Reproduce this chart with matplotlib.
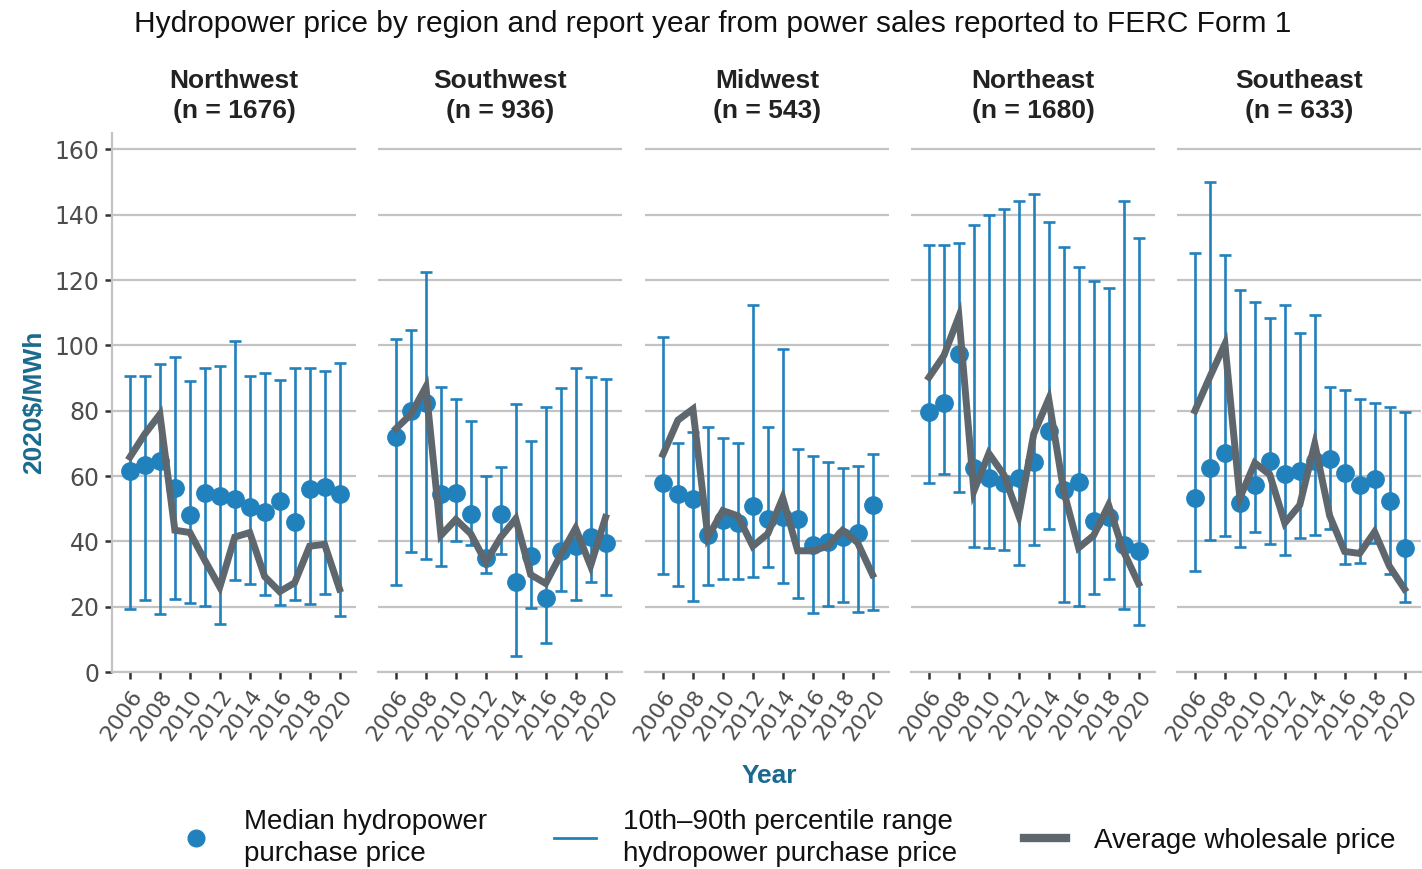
import matplotlib as mpl
mpl.use('Agg')
import matplotlib.pyplot as plt
from matplotlib.lines import Line2D

plt.rcParams['font.family'] = ['Liberation Sans', 'DejaVu Sans']

years = list(range(2006, 2021))
regions = ['Northwest', 'Southwest', 'Midwest', 'Northeast', 'Southeast']
counts = [1676, 936, 543, 1680, 633]

# median hydropower purchase price
nw_med = [61.4, 63.3, 64.7, 56.2, 48.1, 54.9, 53.8, 53.0, 50.5, 49.1, 52.4, 45.9, 56.0, 56.5, 54.6]
sw_med = [71.8, 79.8, 82.4, 54.6, 54.9, 48.3, 34.9, 48.3, 27.6, 35.6, 22.7, 37.1, 38.5, 41.3, 39.6]
mw_med = [57.8, 54.6, 52.9, 41.8, 46.4, 45.6, 50.9, 46.9, 47.3, 46.7, 38.9, 39.9, 41.3, 42.6, 51.1]
ne_med = [79.7, 82.5, 97.5, 62.5, 59.3, 57.8, 59.3, 64.2, 73.7, 55.7, 58.2, 46.2, 47.3, 38.9, 37.1]
se_med = [53.3, 62.3, 66.9, 51.6, 57.3, 64.7, 60.7, 61.4, 64.7, 65.3, 60.9, 57.3, 59.0, 52.2, 38.0]

# 10th percentile
nw_p10 = [19.2, 22.0, 17.8, 22.5, 21.0, 20.3, 14.7, 28.2, 26.8, 23.5, 20.5, 22.0, 20.7, 24.0, 17.2]
sw_p10 = [26.5, 36.6, 34.7, 32.5, 40.2, 38.9, 30.3, 36.2, 5.0, 19.6, 8.8, 24.9, 21.9, 27.6, 23.6]
mw_p10 = [30.0, 26.2, 21.8, 26.5, 28.5, 28.5, 29.2, 32.2, 27.1, 22.7, 18.1, 20.3, 21.4, 18.3, 18.9]
ne_p10 = [57.8, 60.7, 55.2, 38.2, 38.0, 37.4, 32.9, 38.9, 43.7, 21.4, 20.3, 23.8, 28.5, 19.2, 14.5]
se_p10 = [30.9, 40.4, 41.5, 38.2, 42.9, 39.1, 35.8, 41.0, 41.8, 43.7, 33.1, 33.4, 39.4, 30.1, 21.4]

# 90th percentile
nw_p90 = [90.6, 90.6, 94.4, 96.3, 89.2, 93.1, 93.8, 101.3, 90.6, 91.6, 89.4, 93.1, 93.1, 92.0, 94.7]
sw_p90 = [101.8, 104.8, 122.6, 87.1, 83.6, 76.7, 60.1, 62.9, 82.0, 70.7, 81.2, 86.9, 93.1, 90.4, 89.6]
mw_p90 = [102.4, 70.0, 73.5, 74.9, 71.6, 70.0, 112.5, 74.9, 98.9, 68.2, 66.1, 64.2, 62.5, 63.1, 66.6]
ne_p90 = [130.7, 130.7, 131.2, 136.8, 139.8, 141.7, 144.2, 146.2, 137.8, 130.0, 123.9, 119.8, 117.7, 144.1, 132.9]
se_p90 = [128.3, 150.1, 127.8, 116.9, 113.3, 108.4, 112.5, 103.8, 109.2, 87.1, 86.2, 83.6, 82.5, 81.1, 79.7]

# average wholesale price
nw_avg = [65.8, 72.9, 78.9, 43.4, 42.7, 34.2, 26.0, 41.3, 42.7, 29.2, 24.6, 27.3, 38.5, 39.1, 25.4]
sw_avg = [74.5, 78.9, 87.3, 41.8, 46.7, 42.3, 33.6, 41.3, 46.9, 29.8, 27.1, 35.8, 44.0, 32.5, 47.3]
mw_avg = [66.6, 77.1, 80.5, 41.3, 49.4, 47.8, 38.5, 42.3, 53.3, 37.1, 37.1, 38.5, 43.4, 39.6, 29.8]
ne_avg = [90.2, 96.9, 108.9, 55.4, 66.9, 60.4, 47.8, 72.9, 83.6, 55.4, 38.0, 41.8, 51.1, 36.9, 27.1]
se_avg = [80.0, 90.4, 100.4, 53.3, 64.0, 60.4, 45.6, 51.1, 69.8, 47.8, 36.9, 36.3, 42.9, 32.3, 25.4]

meds = [nw_med, sw_med, mw_med, ne_med, se_med]
p10s = [nw_p10, sw_p10, mw_p10, ne_p10, se_p10]
p90s = [nw_p90, sw_p90, mw_p90, ne_p90, se_p90]
avgs = [nw_avg, sw_avg, mw_avg, ne_avg, se_avg]

blue = '#2181bd'
gray = '#5e676d'
grid = '#c3c3c3'
teal = '#1a6a8e'
tick_col = '#4d4d4d'

fig = plt.figure(figsize=(14.22, 8.69), dpi=100)

W, H = 1422, 869
lefts = [112, 378, 645, 911, 1177]
pw = 244
bottom_px, top_px = 672, 133

for i in range(5):
    ax = fig.add_axes([lefts[i] / W, 1 - bottom_px / H, pw / W, (bottom_px - top_px) / H])
    med, lo, hi, avg = meds[i], p10s[i], p90s[i], avgs[i]
    yerr = [[m - l for m, l in zip(med, lo)], [h - m for m, h in zip(med, hi)]]
    ax.errorbar(years, med, yerr=yerr, fmt='none', ecolor=blue, elinewidth=1.9,
                capsize=4.5, capthick=1.9, zorder=3)
    ax.plot(years, med, 'o', color=blue, markersize=12.5, zorder=4)
    ax.plot(years, avg, color=gray, lw=5, solid_joinstyle='miter', zorder=5)

    ax.set_xlim(2004.8, 2021.1)
    ax.set_ylim(0, 165)
    ax.set_yticks(range(0, 161, 20))
    ax.set_xticks(range(2006, 2021, 2))
    ax.grid(axis='y', color=grid, lw=1.6, zorder=0)
    ax.set_axisbelow(True)
    for s in ['top', 'right']:
        ax.spines[s].set_visible(False)
    ax.spines['bottom'].set_color(grid)
    ax.spines['bottom'].set_linewidth(1.6)
    ax.tick_params(axis='x', colors='#333333', length=5, width=1.8, labelcolor=tick_col,
                   labelsize=16, pad=5)
    for lab in ax.get_xticklabels():
        lab.set_rotation(55)
        lab.set_ha('right')
        lab.set_va('top')
        lab.set_rotation_mode('anchor')
        lab.set_family('DejaVu Sans')
    if i == 0:
        ax.spines['left'].set_color(grid)
        ax.spines['left'].set_linewidth(1.6)
        ax.tick_params(axis='y', colors='#333333', length=5, width=1.8, labelcolor=tick_col,
                       labelsize=17, pad=4)
        for lab in ax.get_yticklabels():
            lab.set_family('DejaVu Sans')
        ax.set_ylabel('2020\\$/MWh', color=teal, fontsize=19, fontweight='bold', labelpad=6)
    else:
        ax.spines['left'].set_visible(False)
        ax.tick_params(axis='y', left=False, labelleft=False)
    ax.set_title(f'{regions[i]}\n(n = {counts[i]})', fontsize=19, fontweight='bold',
                 color='#222222', pad=11, linespacing=1.3)

fig.text(713 / W, 1 - 24 / H, 'Hydropower price by region and report year from power sales reported to FERC Form 1',
         ha='center', va='center', fontsize=21.5, color='#111111')
fig.text(769 / W, 1 - 776 / H, 'Year', ha='center', va='center', fontsize=19,
         fontweight='bold', color=teal)

handles = [
    Line2D([], [], marker='o', ls='none', color=blue, markersize=12),
    Line2D([], [], color=blue, lw=2),
    Line2D([], [], color=gray, lw=6),
]
labels = ['Median hydropower\npurchase price',
          '10th\u201390th percentile range\nhydropower purchase price',
          'Average wholesale price']
fig.legend(handles, labels, loc='center', bbox_to_anchor=(0.552, 1 - 838 / H), ncol=3,
           frameon=False, fontsize=20, handlelength=1.5, handletextpad=1.0,
           columnspacing=2.4, labelcolor='#111111', labelspacing=0.2)
for t in fig.legends[0].get_texts():
    t.set_linespacing(1.3)

fig.savefig('out.png', dpi=100)
